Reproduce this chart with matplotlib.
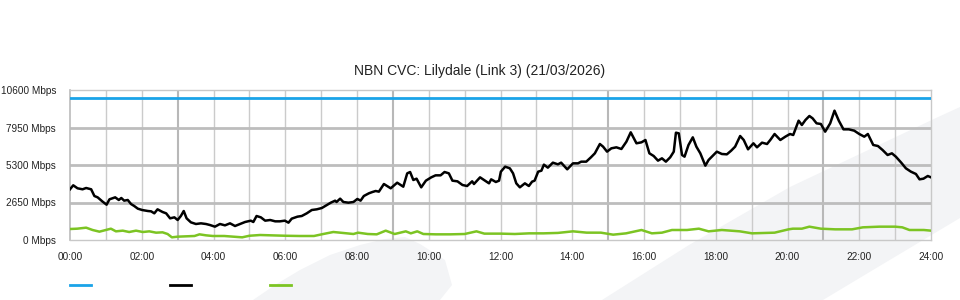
import matplotlib
matplotlib.use("Agg")
import matplotlib.pyplot as plt
from matplotlib.patches import Polygon
from matplotlib.lines import Line2D

plt.rcParams['font.family'] = ['Liberation Sans', 'DejaVu Sans']

title = "NBN CVC: Lilydale (Link 3) (21/03/2026)"
x_ticks = [0, 2, 4, 6, 8, 10, 12, 14, 16, 18, 20, 22, 24]
x_tick_labels = ["00:00", "02:00", "04:00", "06:00", "08:00", "10:00", "12:00",
                 "14:00", "16:00", "18:00", "20:00", "22:00", "24:00"]
y_ticks = [0, 2650, 5300, 7950, 10600]
y_tick_labels = ["0 Mbps", "2650 Mbps", "5300 Mbps", "7950 Mbps", "10600 Mbps"]

capacity_mbps = 10000

used_hours = [0.00, 0.09, 0.21, 0.35, 0.45, 0.59, 0.68, 0.77, 0.91, 1.02, 1.10, 1.26, 1.36, 1.43,
              1.51, 1.61, 1.70, 1.79, 1.89, 2.01, 2.17, 2.26, 2.35, 2.44, 2.58, 2.68, 2.79, 2.91,
              3.00, 3.09, 3.17, 3.25, 3.37, 3.51, 3.65, 3.79, 3.90, 4.04, 4.18, 4.32, 4.46, 4.60,
              4.74, 4.88, 5.04, 5.11, 5.20, 5.32, 5.44, 5.58, 5.72, 5.85, 5.99, 6.09, 6.18, 6.34,
              6.46, 6.60, 6.74, 6.88, 7.02, 7.16, 7.27, 7.39, 7.43, 7.53, 7.62, 7.76, 7.90, 8.01,
              8.10, 8.19, 8.33, 8.43, 8.52, 8.61, 8.75, 8.94, 9.12, 9.29, 9.40, 9.48, 9.57, 9.66,
              9.79, 9.92, 10.07, 10.19, 10.33, 10.44, 10.56, 10.66, 10.80, 10.94, 11.07, 11.21,
              11.26, 11.43, 11.54, 11.68, 11.74, 11.87, 11.96, 12.01, 12.13, 12.26, 12.35, 12.44,
              12.54, 12.68, 12.79, 12.88, 12.95, 13.05, 13.14, 13.21, 13.32, 13.46, 13.60, 13.69,
              13.86, 14.02, 14.16, 14.25, 14.39, 14.52, 14.63, 14.77, 14.86, 14.97, 15.09, 15.23,
              15.37, 15.51, 15.63, 15.79, 15.93, 16.04, 16.15, 16.27, 16.39, 16.50, 16.61, 16.73,
              16.83, 16.89, 16.97, 17.06, 17.13, 17.24, 17.36, 17.46, 17.57, 17.71, 17.80, 17.91,
              18.03, 18.17, 18.31, 18.43, 18.54, 18.68, 18.78, 18.90, 19.05, 19.15, 19.29, 19.43,
              19.52, 19.64, 19.80, 19.94, 20.07, 20.16, 20.31, 20.40, 20.50, 20.61, 20.70, 20.81,
              20.93, 21.05, 21.19, 21.31, 21.43, 21.56, 21.71, 21.86, 22.00, 22.14, 22.24, 22.39,
              22.52, 22.65, 22.79, 22.91, 23.02, 23.17, 23.30, 23.44, 23.58, 23.68, 23.79, 23.91,
              24.00]
used_mbps = [3583, 3865, 3653, 3583, 3675, 3583, 3109, 3015, 2709, 2497, 2874, 3015, 2827, 2968,
             2780, 2827, 2544, 2403, 2215, 2120, 2049, 2026, 1885, 2168, 1979, 1885, 1531, 1601,
             1413, 1696, 2049, 1531, 1248, 1131, 1178, 1131, 1060, 942, 1131, 1036, 1178, 989,
             1131, 1272, 1366, 1272, 1696, 1601, 1366, 1413, 1319, 1319, 1366, 1225, 1508, 1649,
             1696, 1885, 2120, 2168, 2261, 2473, 2638, 2780, 2685, 2921, 2685, 2638, 2685, 2900,
             2780, 3109, 3298, 3392, 3463, 3416, 3957, 3653, 4050, 3767, 4711, 4805, 4240, 4334,
             3722, 4193, 4428, 4569, 4569, 4805, 4711, 4193, 4146, 3887, 3816, 4146,
             3957, 4428, 4240, 4004, 4287, 4099, 4193, 4829, 5183, 5065, 4711, 4004,
             3722, 4004, 3816, 4122, 4193, 4829, 4899, 5324, 5112, 5466, 5347, 5466,
             4994, 5418, 5418, 5536, 5536, 5842, 6125, 6784, 6596, 6243, 6478, 6549,
             6431, 6950, 7609, 6833, 6903, 7067, 6125, 5936, 5607, 5772, 5536, 5842,
             6243, 7584, 7537, 6007, 5889, 6714, 7255, 6596, 6125, 5253, 5654, 5936,
             6243, 6078, 6054, 6314, 6596, 7349, 7067, 6408, 6833, 6549, 6879, 6784,
             7067, 7491, 7067, 7302, 7491, 7420, 8432, 8127, 8480, 8763, 8598, 8245,
             8198, 7655, 8245, 9140, 8432, 7820, 7820, 7726, 7491, 7302, 7491, 6714,
             6643, 6360, 6007, 6125, 5889, 5466, 5065, 4829, 4664, 4287, 4334, 4523,
             4428]

green_hours = [0.00, 0.20, 0.45, 0.63, 0.82, 1.00, 1.14, 1.28, 1.47, 1.65, 1.84, 2.03, 2.21, 2.40,
               2.58, 2.72, 2.84, 3.00, 3.23, 3.47, 3.61, 3.79, 3.98, 4.30, 4.80, 5.00, 5.30, 5.60,
               6.00, 6.40, 6.80, 7.06, 7.34, 7.53, 7.90, 8.03, 8.30, 8.55, 8.80, 9.05, 9.36, 9.50,
               9.68, 9.85, 10.20, 10.60, 11.00, 11.33, 11.55, 12.00, 12.40, 12.80, 13.20, 13.60,
               14.02, 14.40, 14.80, 15.14, 15.50, 15.93, 16.22, 16.50, 16.78, 17.20, 17.53, 17.80,
               18.17, 18.67, 19.01, 19.64, 20.03, 20.15, 20.40, 20.61, 20.93, 21.33, 21.80, 22.10,
               22.56, 23.00, 23.20, 23.40, 23.80, 24.00]
green_mbps = [777, 800, 871, 707, 589, 707, 800, 612, 660, 565, 660, 565, 612, 518,
              542, 424, 188, 235, 259, 283, 400, 330, 283, 283, 188, 300, 353, 330,
              300, 283, 283, 424, 565, 518, 424, 518, 424, 400, 660, 424, 612, 470,
              612, 424, 400, 400, 424, 612, 450, 450, 424, 470, 470, 500,
              612, 520, 518, 377, 470, 707, 471, 518, 707, 707, 800, 612,
              707, 612, 471, 518, 754, 800, 800, 942, 800, 754, 754, 895,
              942, 942, 895, 707, 707, 660]

W, H = 960, 300
fig = plt.figure(figsize=(9.6, 3.0), dpi=100)
fig.patch.set_facecolor('white')

def fpts(pts):
    return [(x / W, 1 - y / H) for x, y in pts]

bg = '#f3f4f6'
blade = [(253, 300), (275, 285), (300, 270), (330, 255), (360, 245), (385, 239), (405, 237),
         (420, 244), (445, 260), (452, 285), (440, 300)]
band = [(602, 300), (689, 245), (790, 187), (936, 118), (960, 107), (960, 218), (873, 270),
        (823, 300)]
for poly in (blade, band):
    fig.add_artist(Polygon(fpts(poly), closed=True, transform=fig.transFigure,
                           facecolor=bg, edgecolor='none', zorder=-5))

ax = fig.add_axes([70 / W, 60 / H, 861 / W, 150 / H])
ax.set_facecolor('none')
ax.set_xlim(0, 24)
ax.set_ylim(0, 10600)

for hr in range(1, 24):
    major = hr % 6 == 3
    ax.axvline(hr, color='#b8b8b8' if major else '#cbcbcb', lw=1.5 if major else 1.0, zorder=1)
for yv in y_ticks[1:-1]:
    ax.axhline(yv, color='#bdbdbd', lw=2.0, zorder=1)

for s in ['top', 'right', 'bottom']:
    ax.spines[s].set_color('#c8c8c8')
    ax.spines[s].set_linewidth(1.0)
ax.spines['left'].set_color('#bbbbbb')
ax.spines['left'].set_linewidth(1.2)

ax.axhline(capacity_mbps, color='#1aa3e8', lw=2.0, zorder=3)
ax.plot(used_hours, used_mbps, color='black', lw=1.8, zorder=4)
ax.plot(green_hours, green_mbps, color='#7cc423', lw=1.8, zorder=3)

ax.set_xticks(x_ticks)
ax.set_xticklabels(x_tick_labels)
ax.set_yticks(y_ticks)
ax.set_yticklabels(y_tick_labels)
ax.tick_params(axis='both', length=0, labelsize=7.2, colors='#222222')
ax.tick_params(axis='x', pad=8.5)
ax.tick_params(axis='y', pad=10)

fig.text(480 / W, 1 - 71 / H, title, ha='center', va='center', fontsize=10, color='#222222')

legend_colors = ['#1aa3e8', 'black', '#7cc423']
for i, c in enumerate(legend_colors):
    x0 = 70 + 100 * i
    fig.add_artist(Line2D([x0 / W, (x0 + 21) / W], [1 - 285 / H, 1 - 285 / H],
                          transform=fig.transFigure, color=c, lw=2.0))

fig.savefig('out.png', dpi=100)
